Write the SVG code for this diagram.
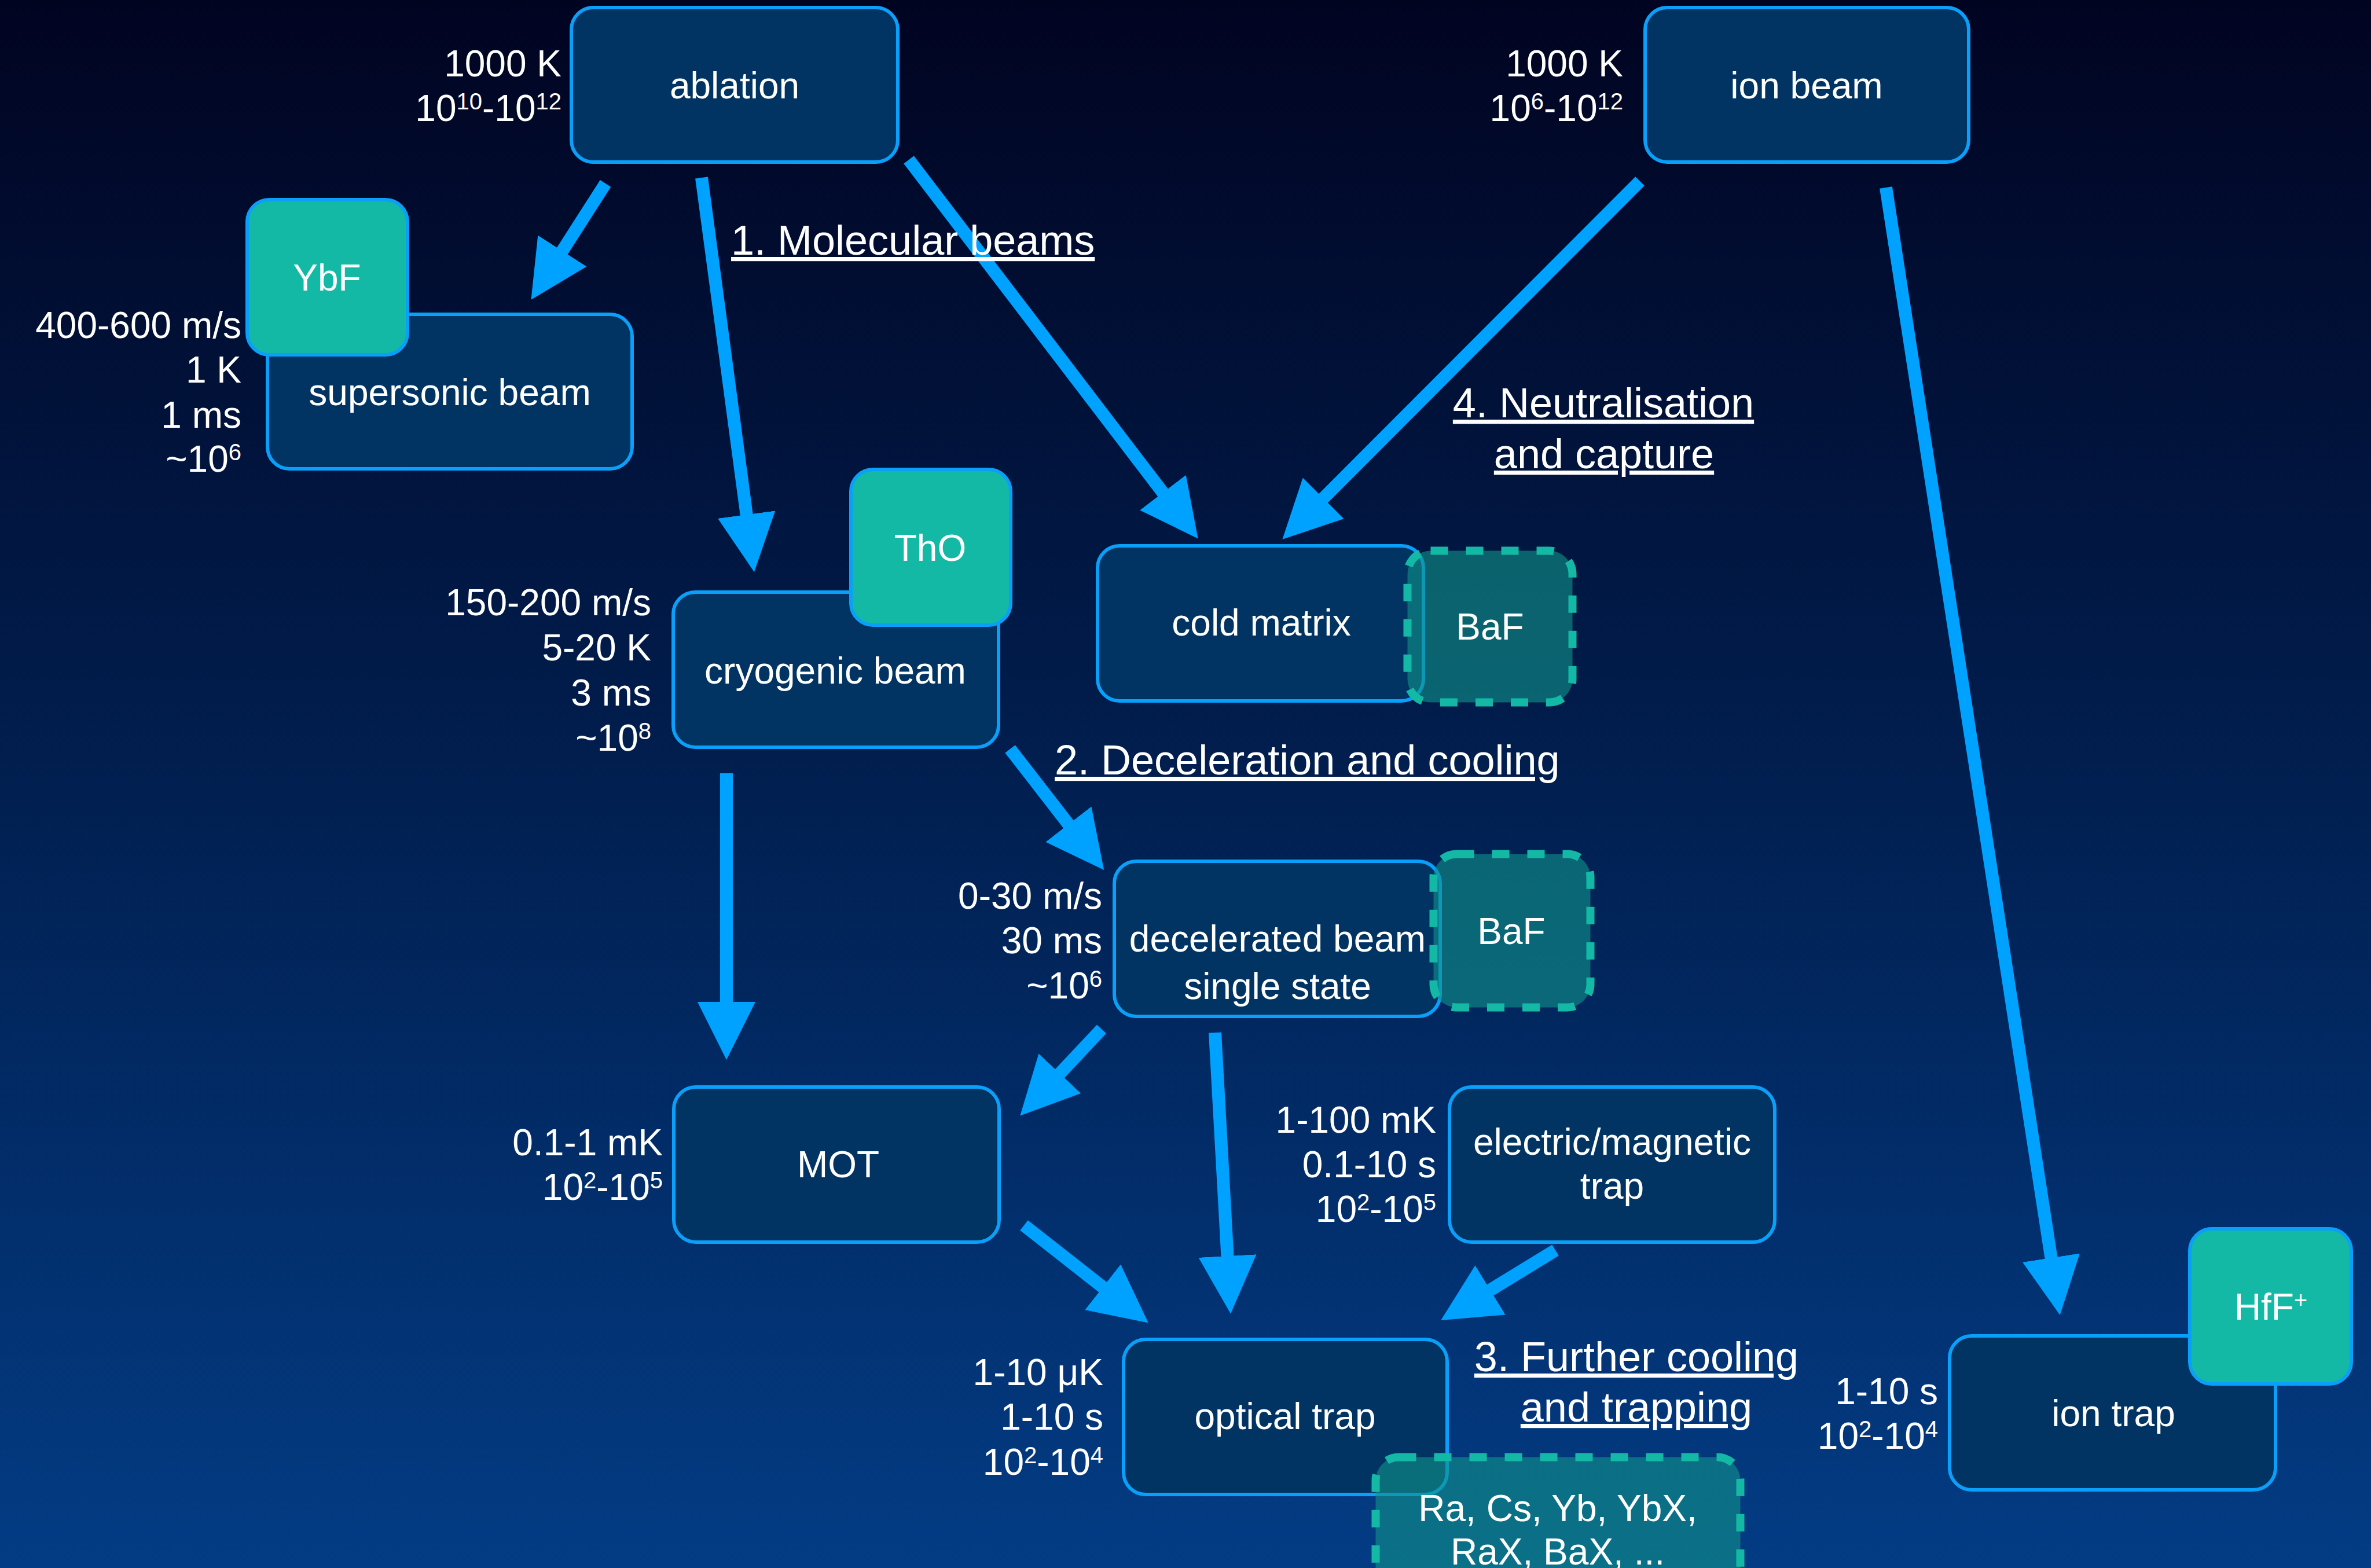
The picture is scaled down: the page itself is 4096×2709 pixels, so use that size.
<svg xmlns="http://www.w3.org/2000/svg" width="4096" height="2709" viewBox="0 0 4096 2709">
<defs>
<linearGradient id="bg" x1="0" y1="0" x2="0" y2="1">
<stop offset="0" stop-color="#010421"/>
<stop offset="0.5" stop-color="#011f50"/>
<stop offset="1" stop-color="#033c84"/>
</linearGradient>
<marker id="ah" markerUnits="userSpaceOnUse" viewBox="0 0 100 100" markerWidth="100" markerHeight="100" refX="10" refY="50" orient="auto">
<path d="M0,0 L100,50 L0,100 z" fill="#00a2ff"/>
</marker>
<style>
.box{fill:#013462;stroke:#0a9ff8;stroke-width:6}
.teal{fill:#14b9a6;stroke:#0a9ff8;stroke-width:6}
.dash{fill:#10948a;fill-opacity:0.6;stroke:#14b9a6;stroke-width:14;stroke-dasharray:30 31}
text{font-family:"Liberation Sans",Arial,sans-serif;fill:#ffffff}
.t{font-size:64px;text-anchor:middle}
.l{font-size:64px;text-anchor:end}
.h{font-size:72px;text-decoration:underline}
.hc{font-size:72px;text-decoration:underline;text-anchor:middle}
.s{font-size:40px}
.conn line{stroke:#00a2ff;stroke-width:22;marker-end:url(#ah)}
</style>
</defs>
<rect x="0" y="0" width="4096" height="2709" fill="url(#bg)"/>

<g id="connectors" class="conn">
<line x1="1046" y1="317" x2="966" y2="442"/>
<line x1="1212" y1="307" x2="1291" y2="899"/>
<line x1="1570" y1="276" x2="2015" y2="859"/>
<line x1="2833" y1="313" x2="2279" y2="868"/>
<line x1="3258" y1="324" x2="3545" y2="2183"/>
<line x1="1255" y1="1336" x2="1255" y2="1741"/>
<line x1="1745" y1="1294" x2="1852" y2="1432"/>
<line x1="1903" y1="1778" x2="1824" y2="1862"/>
<line x1="2099" y1="1784" x2="2121" y2="2180"/>
<line x1="1769" y1="2117" x2="1913" y2="2230"/>
<line x1="2687" y1="2160" x2="2566" y2="2234"/>
</g>

<g id="ablation">
<rect class="box" x="987" y="13" width="564" height="267" rx="38"/>
<text class="t" x="1269" y="170">ablation</text>
<text class="l" x="970" y="132">1000 K</text>
<text class="l" x="970" y="209">10<tspan class="s" dy="-20">10</tspan><tspan dy="20">-10</tspan><tspan class="s" dy="-20">12</tspan></text>
</g>

<g id="ion-beam">
<rect class="box" x="2842" y="13" width="559" height="267" rx="38"/>
<text class="t" x="3121" y="170">ion beam</text>
<text class="l" x="2804" y="132">1000 K</text>
<text class="l" x="2804" y="209">10<tspan class="s" dy="-20">6</tspan><tspan dy="20">-10</tspan><tspan class="s" dy="-20">12</tspan></text>
</g>

<g id="supersonic-beam">
<rect class="box" x="462" y="543" width="630" height="267" rx="38"/>
<text class="t" x="777" y="700">supersonic beam</text>
<text class="l" x="417" y="584">400-600 m/s</text>
<text class="l" x="417" y="661">1 K</text>
<text class="l" x="417" y="739">1 ms</text>
<text class="l" x="417" y="815">~10<tspan class="s" dy="-20">6</tspan></text>
</g>

<g id="YbF">
<rect class="teal" x="427" y="345" width="277" height="268" rx="38"/>
<text class="t" x="565" y="502">YbF</text>
</g>

<g id="cryogenic-beam">
<rect class="box" x="1163" y="1023" width="562" height="268" rx="38"/>
<text class="t" x="1443" y="1181">cryogenic beam</text>
<text class="l" x="1125" y="1063">150-200 m/s</text>
<text class="l" x="1125" y="1141">5-20 K</text>
<text class="l" x="1125" y="1219">3 ms</text>
<text class="l" x="1125" y="1297">~10<tspan class="s" dy="-20">8</tspan></text>
</g>

<g id="ThO">
<rect class="teal" x="1470" y="811" width="276" height="269" rx="38"/>
<text class="t" x="1607" y="969">ThO</text>
</g>

<g id="cold-matrix">
<rect class="box" x="1896" y="943" width="563" height="268" rx="38"/>
<text class="t" x="2179" y="1098">cold matrix</text>
</g>

<g id="BaF-matrix">
<rect class="dash" x="2431.5" y="951.5" width="285" height="262" rx="40"/>
<text class="t" x="2574" y="1105">BaF</text>
</g>

<g id="decelerated-beam">
<rect class="box" x="1925" y="1488" width="563" height="268" rx="38"/>
<text class="t" x="2207" y="1644">decelerated beam</text>
<text class="t" x="2207" y="1726">single state</text>
<text class="l" x="1904" y="1570">0-30 m/s</text>
<text class="l" x="1904" y="1647">30 ms</text>
<text class="l" x="1904" y="1725">~10<tspan class="s" dy="-20">6</tspan></text>
</g>

<g id="BaF-decelerated">
<rect class="dash" x="2476.5" y="1475.5" width="271" height="265" rx="40"/>
<text class="t" x="2611" y="1631">BaF</text>
</g>

<g id="MOT">
<rect class="box" x="1164" y="1878" width="562" height="268" rx="38"/>
<text class="t" x="1448" y="2034">MOT</text>
<text class="l" x="1145" y="1996">0.1-1 mK</text>
<text class="l" x="1145" y="2073">10<tspan class="s" dy="-20">2</tspan><tspan dy="20">-10</tspan><tspan class="s" dy="-20">5</tspan></text>
</g>

<g id="em-trap">
<rect class="box" x="2504" y="1878" width="562" height="268" rx="38"/>
<text class="t" x="2785" y="1995">electric/magnetic</text>
<text class="t" x="2785" y="2071">trap</text>
<text class="l" x="2481" y="1957">1-100 mK</text>
<text class="l" x="2481" y="2034">0.1-10 s</text>
<text class="l" x="2481" y="2111">10<tspan class="s" dy="-20">2</tspan><tspan dy="20">-10</tspan><tspan class="s" dy="-20">5</tspan></text>
</g>

<g id="optical-trap">
<rect class="box" x="1941" y="2314" width="559" height="268" rx="38"/>
<text class="t" x="2220" y="2469">optical trap</text>
<text class="l" x="1906" y="2393">1-10 μK</text>
<text class="l" x="1906" y="2470">1-10 s</text>
<text class="l" x="1906" y="2548">10<tspan class="s" dy="-20">2</tspan><tspan dy="20">-10</tspan><tspan class="s" dy="-20">4</tspan></text>
</g>

<g id="atoms">
<rect class="dash" x="2376.5" y="2517.5" width="630" height="300" rx="40"/>
<text class="t" x="2691" y="2628">Ra, Cs, Yb, YbX,</text>
<text class="t" x="2691" y="2703">RaX, BaX, ...</text>
</g>

<g id="ion-trap">
<rect class="box" x="3368" y="2308" width="563" height="266" rx="38"/>
<text class="t" x="3651" y="2464">ion trap</text>
<text class="l" x="3348" y="2426">1-10 s</text>
<text class="l" x="3348" y="2503">10<tspan class="s" dy="-20">2</tspan><tspan dy="20">-10</tspan><tspan class="s" dy="-20">4</tspan></text>
</g>

<g id="HfF">
<rect class="teal" x="3783" y="2123" width="279" height="268" rx="38"/>
<text class="t" x="3923" y="2280">HfF<tspan class="s" dy="-20">+</tspan></text>
</g>

<g id="titles">
<text class="h" x="1263" y="440">1. Molecular beams</text>
<text class="hc" x="2770" y="721">4. Neutralisation</text>
<text class="hc" x="2771" y="809">and capture</text>
<text class="h" x="1822" y="1338">2. Deceleration and cooling</text>
<text class="hc" x="2827" y="2369">3. Further cooling</text>
<text class="hc" x="2827" y="2456">and trapping</text>
</g>
</svg>
